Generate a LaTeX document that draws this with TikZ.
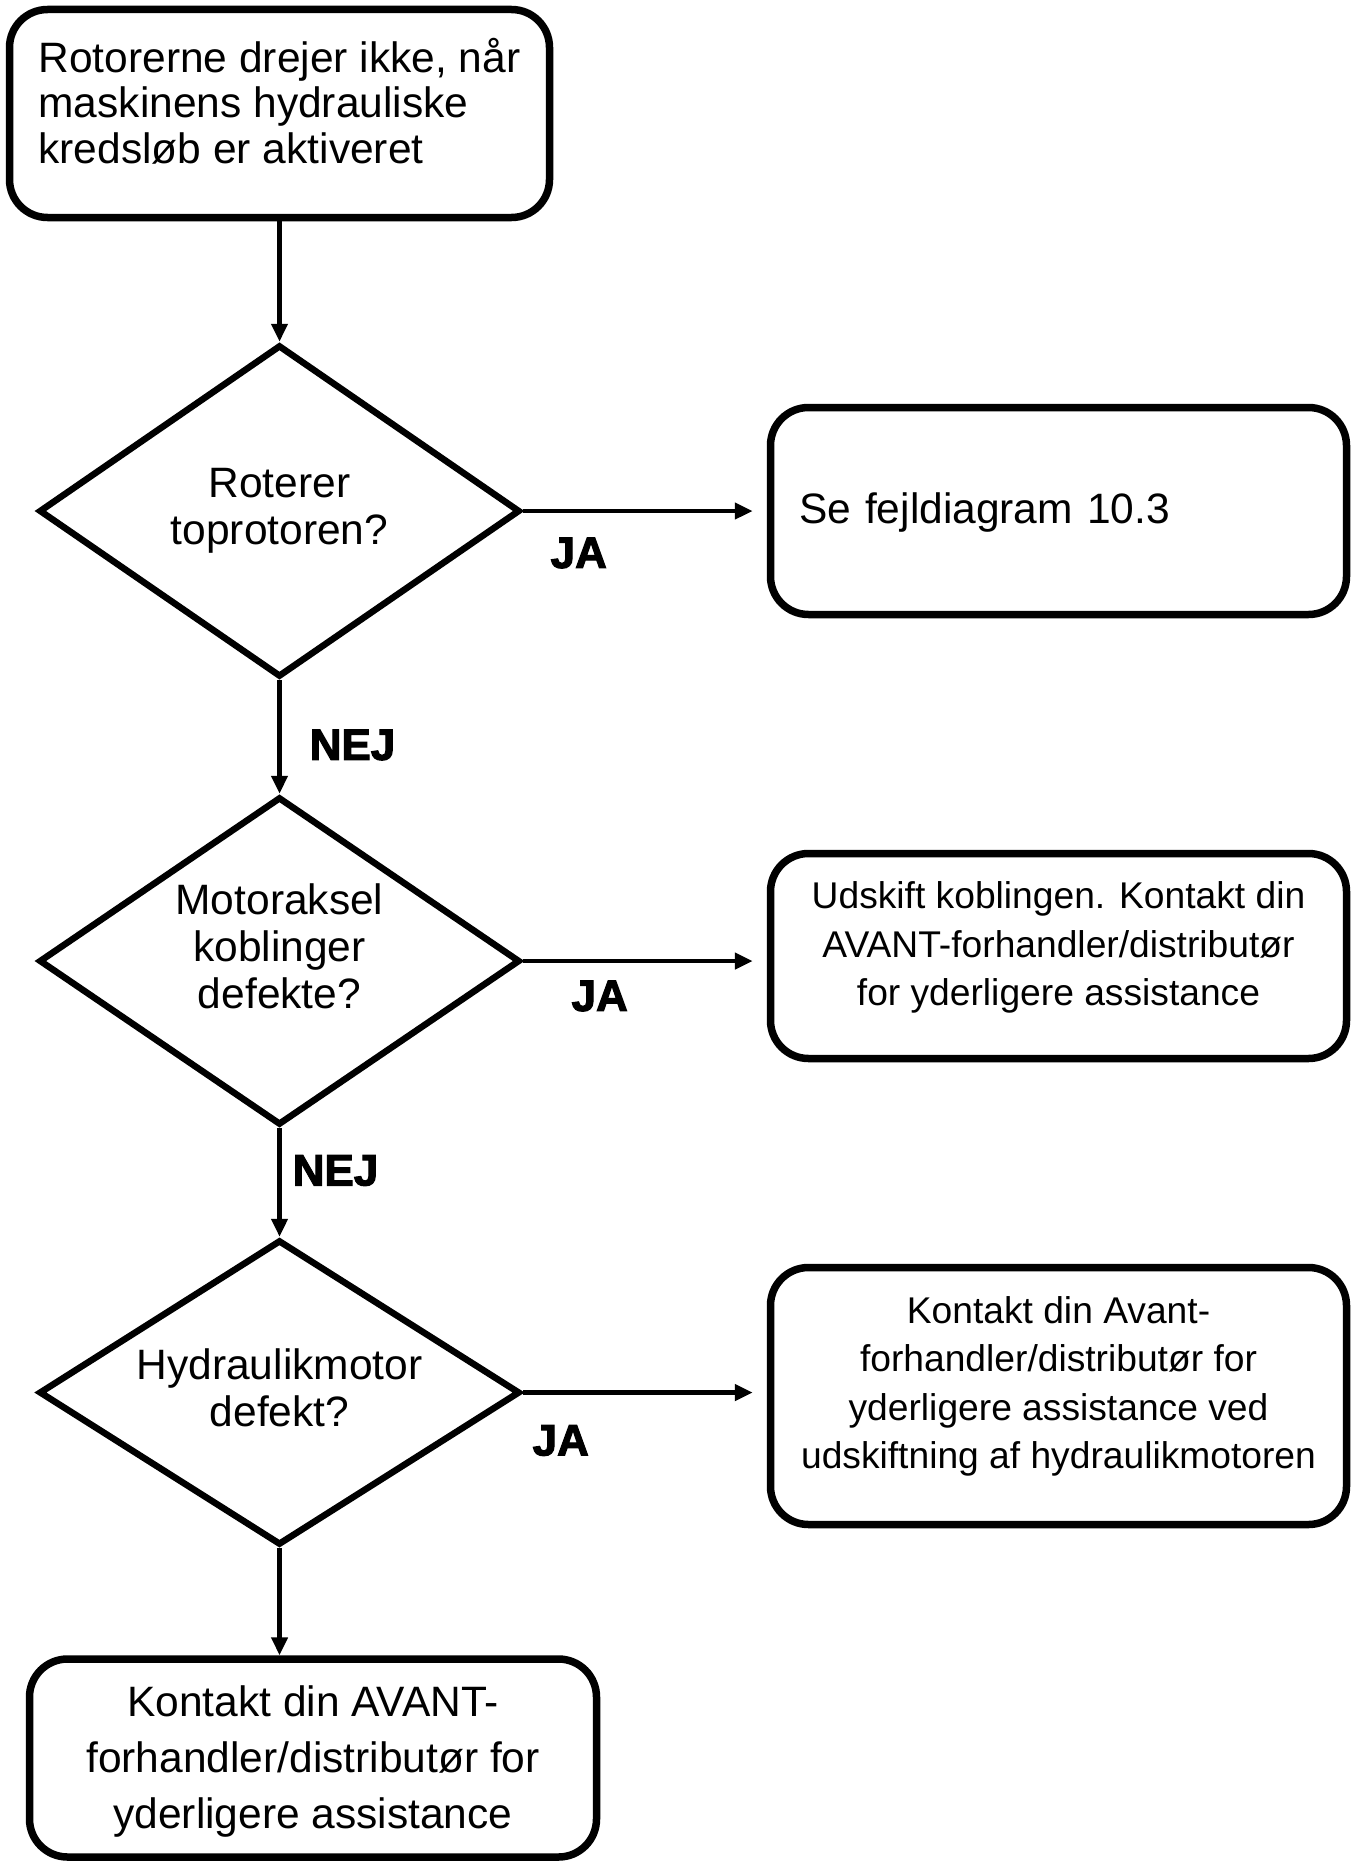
\documentclass[tikz,border=0pt]{standalone}
\usepackage{fontspec}
\setmainfont{Liberation Sans}
\newfontfamily\heavyfont{Liberation Sans}[UprightFont={* Bold}, FakeBold=2.5]
\usetikzlibrary{shapes.geometric, arrows.meta}

\begin{document}
\begin{tikzpicture}[x=1pt, y=-1pt,
  box/.style={draw, line width=7.5pt, rounded corners=38pt, inner sep=0pt, align=center},
  decision/.style={draw, diamond, line width=6.5pt, minimum width=481pt, shape aspect=1.44, inner sep=2pt, align=center, font=\fontsize{42.5}{47}\selectfont},
  arrow/.style={-{Triangle[length=18pt, width=16pt]}, line width=4.5pt},
  side/.style={arrow, shorten >=14pt},
  answer/.style={font=\fontsize{44}{44}\selectfont\heavyfont}]
  \useasboundingbox (0,0) rectangle (1358,1865);
  % main column
  \node[box, minimum width=540pt, inner ysep=30.5pt, text height=124pt, text depth=23pt, align=left, font=\fontsize{42.5}{46}\selectfont] (start) at (279.5,113.5) {Rotorerne drejer ikke, når\\maskinens hydrauliske\\kredsløb er aktiveret};
  \node[decision, minimum height=332pt, text height=78pt, text depth=11.6pt] (q1) at (279.5,511) {Roterer\\toprotoren?};
  \node[decision, minimum height=328pt, text height=125pt, text depth=29.6pt] (q2) at (279.5,961) {Motoraksel\\koblinger\\defekte?};
  \node[decision, minimum height=305pt, text height=78pt, text depth=9.2pt] (q3) at (279.5,1392.5) {Hydraulikmotor\\defekt?};
  \node[box, minimum width=567pt, minimum height=198pt, text height=143pt, text depth=1.6pt, font=\fontsize{42.5}{56}\selectfont] (fin) at (313,1758) {Kontakt din AVANT-\\forhandler/distributør for\\yderligere assistance};
  % answers
  \node[box, minimum width=576pt, minimum height=207pt, text width=519pt, inner xsep=28.5pt, align=left, text height=31pt, text depth=5.6pt, font=\fontsize{42.5}{47}\selectfont] (b2) at (1058.5,511) {Se fejldiagram 10.3};
  \node[box, minimum width=576pt, minimum height=205pt, text height=124.4pt, text depth=24.6pt, font=\fontsize{37.2}{48.7}\selectfont] (b3) at (1058.5,956) {Udskift koblingen. Kontakt din\\AVANT-forhandler/distributør\\for yderligere assistance};
  \node[box, minimum width=576pt, minimum height=257pt, text height=172.2pt, text depth=26.8pt, font=\fontsize{37.2}{48.4}\selectfont] (b4) at (1058.5,1396) {Kontakt din Avant-\\forhandler/distributør for\\yderligere assistance ved\\udskiftning af hydraulikmotoren};

  \draw[arrow] (start.south) -- (q1.north);
  \draw[arrow] (q1.south) -- node[answer, pos=0.57, xshift=73pt] {NEJ} (q2.north);
  \draw[arrow] (q2.south) -- node[answer, pos=0.39, xshift=56pt] {NEJ} (q3.north);
  \draw[arrow] (q3.south) -- (q3.south |- fin.north);
  \draw[side] (q1.east) -- node[answer, pos=0.228, yshift=-42pt] {JA} (q1.east -| b2.west);
  \draw[side] (q2.east) -- node[answer, pos=0.314, yshift=-35pt] {JA} (q2.east -| b3.west);
  \draw[side] (q3.east) -- node[answer, pos=0.154, yshift=-48pt] {JA} (q3.east -| b4.west);
\end{tikzpicture}
\end{document}
